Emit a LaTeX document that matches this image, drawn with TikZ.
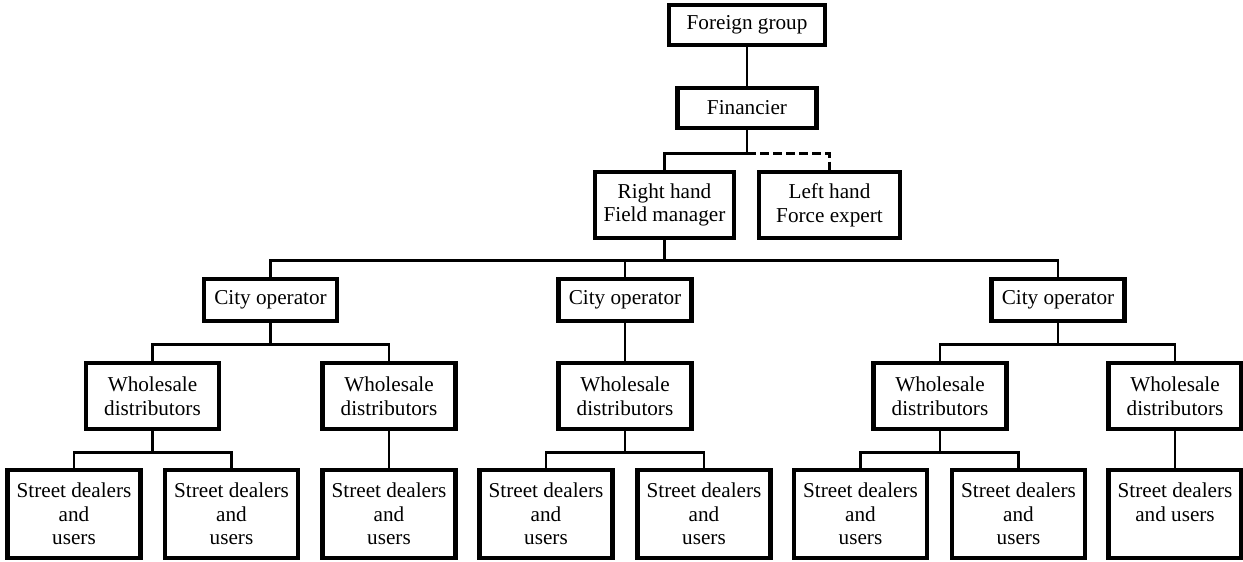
\documentclass[tikz,border=0pt]{standalone}
\usepackage{fontspec}
\setmainfont{Liberation Serif}
\usepackage{tikz}
\tikzset{
  box/.style={draw, line width=2.2pt, align=center, inner sep=0pt,
    font=\fontsize{10.6}{11.8}\selectfont},
  topbox/.style={box, minimum height=20pt},
  handbox/.style={box, minimum width=69.5pt, minimum height=33pt},
  citybox/.style={box, minimum width=66.5pt, minimum height=21pt},
  salebox/.style={box, minimum width=66.5pt, minimum height=33pt},
  streetbox/.style={box, minimum width=66.5pt, minimum height=44pt},
  link/.style={line width=1.4pt},
}

\begin{document}
\begin{tikzpicture}[x=0.5pt, y=-0.5pt]
    \useasboundingbox (0,0) rectangle (1243,562);
    \node[topbox, minimum width=78pt] at (747, 25) (fg) {Foreign group};
    \node[topbox, minimum width=69.5pt] at (747, 108) (fin) {Financier};
    \node[handbox] at (664.5, 205) (rh) {Right hand\\Field manager};
    \node[handbox, minimum width=70.5pt] at (829.5, 205) (lh) {Left hand\\Force expert};
    \node[citybox] at (270.5, 300) (c1) {City operator};
    \node[citybox] at (625, 300) (c2) {City operator};
    \node[citybox] at (1058, 300) (c3) {City operator};
    \node[salebox] at (152.5, 396) (w1) {Wholesale\\distributors};
    \node[salebox] at (389, 396) (w2) {Wholesale\\distributors};
    \node[salebox] at (625, 396) (w3) {Wholesale\\distributors};
    \node[salebox] at (940, 396) (w4) {Wholesale\\distributors};
    \node[salebox] at (1175, 396) (w5) {Wholesale\\distributors};
    \node[streetbox] at (74, 514) (s1) {Street dealers\\and\\users};
    \node[streetbox] at (231.5, 514) (s2) {Street dealers\\and\\users};
    \node[streetbox] at (389, 514) (s3) {Street dealers\\and\\users};
    \node[streetbox] at (546, 514) (s4) {Street dealers\\and\\users};
    \node[streetbox] at (704, 514) (s5) {Street dealers\\and\\users};
    \node[streetbox] at (860.5, 514) (s6) {Street dealers\\and\\users};
    \node[streetbox] at (1018.5, 514) (s7) {Street dealers\\and\\users};
    \node[streetbox] at (1175, 514) (s8) {Street dealers\\and users\\\phantom{users}};
    \draw[link] (fg) -- (fin);
    \draw[link] (fin.south) -- ++(0,23) coordinate (k0) -| (rh.north);
    \draw[link, dash pattern=on 4.5pt off 2pt] (k0) -| (lh.north);
    \draw[link] (rh.south) -- ++(0,20) coordinate (k1);
    \foreach \n in {c1,c2,c3} \draw[link] (k1) -| (\n.north);
    \draw[link] (c1.south) -- ++(0,21) coordinate (k2);
    \foreach \n in {w1,w2} \draw[link] (k2) -| (\n.north);
    \draw[link] (c2) -- (w3);
    \draw[link] (c3.south) -- ++(0,21) coordinate (k3);
    \foreach \n in {w4,w5} \draw[link] (k3) -| (\n.north);
    \draw[link] (w1.south) -- ++(0,21) coordinate (k4);
    \foreach \n in {s1,s2} \draw[link] (k4) -| (\n.north);
    \draw[link] (w2) -- (s3);
    \draw[link] (w3.south) -- ++(0,21) coordinate (k5);
    \foreach \n in {s4,s5} \draw[link] (k5) -| (\n.north);
    \draw[link] (w4.south) -- ++(0,21) coordinate (k6);
    \foreach \n in {s6,s7} \draw[link] (k6) -| (\n.north);
    \draw[link] (w5) -- (s8);
\end{tikzpicture}
\end{document}
